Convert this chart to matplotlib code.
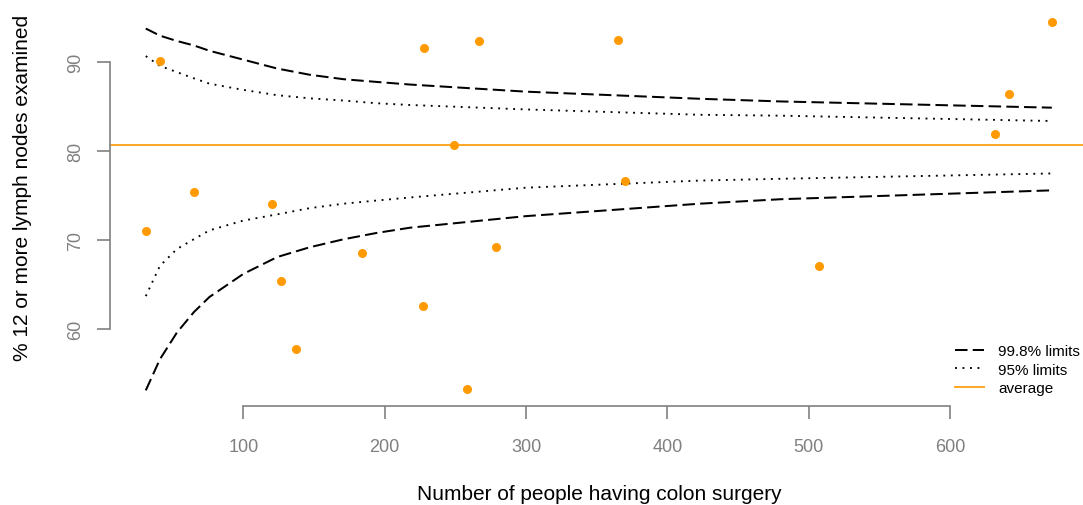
import matplotlib
matplotlib.use("Agg")
import matplotlib.pyplot as plt
from matplotlib.lines import Line2D

plt.rcParams["font.family"] = ["Liberation Sans", "DejaVu Sans"]

# hospitals: number of colon surgeries and % with 12+ lymph nodes examined
n_surgery = [31, 41, 65, 120, 127, 137, 184, 227, 228, 249, 258, 267, 279, 365, 370, 507, 632, 642, 672]
pct_nodes = [71.0, 90.2, 75.4, 74.1, 65.4, 57.7, 68.5, 62.6, 91.6, 80.7, 53.2, 92.4, 69.2, 92.5, 76.7, 67.1, 81.9, 86.4, 94.5]
average = 80.7

# funnel limits
n_limits = [31, 41, 53, 65, 76, 100, 124, 147, 171, 194, 218, 300, 423, 480, 672]
upper_998 = [93.8, 93.0, 92.4, 91.9, 91.3, 90.3, 89.3, 88.6, 88.1, 87.8, 87.5, 86.7, 85.9, 85.6, 84.9]
upper_95 = [90.7, 89.6, 88.9, 88.2, 87.6, 86.9, 86.3, 85.95, 85.7, 85.4, 85.2, 84.7, 84.1, 84.0, 83.4]
lower_95 = [63.7, 67.1, 69.0, 70.1, 71.1, 72.2, 72.9, 73.6, 74.1, 74.45, 74.8, 75.9, 76.7, 76.9, 77.5]
lower_998 = [53.1, 56.6, 59.6, 61.9, 63.6, 66.2, 68.1, 69.2, 70.1, 70.8, 71.4, 72.7, 74.1, 74.6, 75.6]

x_ticks = [100, 200, 300, 400, 500, 600]
y_ticks = [60, 70, 80, 90]

W, H = 1083, 506
grey = "#808080"
orange_pt = "#FF9A00"
orange_ln = "#FFA726"
longdash = (0, (6.2, 2.6))
dotted = (0, (1, 3))

fig = plt.figure(figsize=(W / 100, H / 100), dpi=100)
ax = fig.add_axes([109.6 / W, (H - 406.5) / H, (1088 - 109.6) / W, (406.5 - 8.2) / H])

ax.plot(n_limits, upper_998, color="black", lw=1.45, ls=longdash)
ax.plot(n_limits, lower_998, color="black", lw=1.45, ls=longdash)
ax.plot(n_limits, upper_95, color="black", lw=1.35, ls=dotted)
ax.plot(n_limits, lower_95, color="black", lw=1.35, ls=dotted)
ax.axhline(average, color=orange_ln, lw=1.4)
ax.plot(n_surgery, pct_nodes, "o", color=orange_pt, ms=6.5, mec="none", clip_on=False)

ax.set_xlim(5.4, 697.6)
ax.set_ylim(51.4, 96.2)

for s in ["top", "right"]:
    ax.spines[s].set_visible(False)
ax.spines["left"].set_bounds(60, 90)
ax.spines["bottom"].set_bounds(100, 600)
for s in ["left", "bottom"]:
    ax.spines[s].set_color(grey)
    ax.spines[s].set_linewidth(1.2)

ax.set_xticks(x_ticks)
ax.set_yticks(y_ticks)
ax.tick_params(direction="out", length=9.4, width=1.2, color=grey, labelcolor=grey, labelsize=13)
ax.tick_params(axis="x", pad=14)
ax.tick_params(axis="y", pad=9)
for lab in ax.get_yticklabels():
    lab.set_rotation(90)
    lab.set_va("center")

fig.text(599 / W, (H - 500.5) / H, "Number of people having colon surgery",
         ha="center", va="baseline", fontsize=15, color="black")
fig.text(23 / W, (H - 188) / H, "% 12 or more lymph nodes examined",
         ha="center", va="center", rotation=90, fontsize=15, color="black")

handles = [
    Line2D([], [], color="black", lw=1.45, ls=longdash),
    Line2D([], [], color="black", lw=1.35, ls=dotted),
    Line2D([], [], color=orange_ln, lw=1.4),
]
fig.legend(handles, ["99.8% limits", "95% limits", "average"], loc="upper left",
           bbox_to_anchor=(955 / W, (H - 345.5) / H), bbox_transform=fig.transFigure,
           frameon=False, fontsize=11, handlelength=1.92, handletextpad=0.9,
           labelspacing=0.28, borderpad=0, borderaxespad=0)

fig.savefig("out.png", dpi=100)
